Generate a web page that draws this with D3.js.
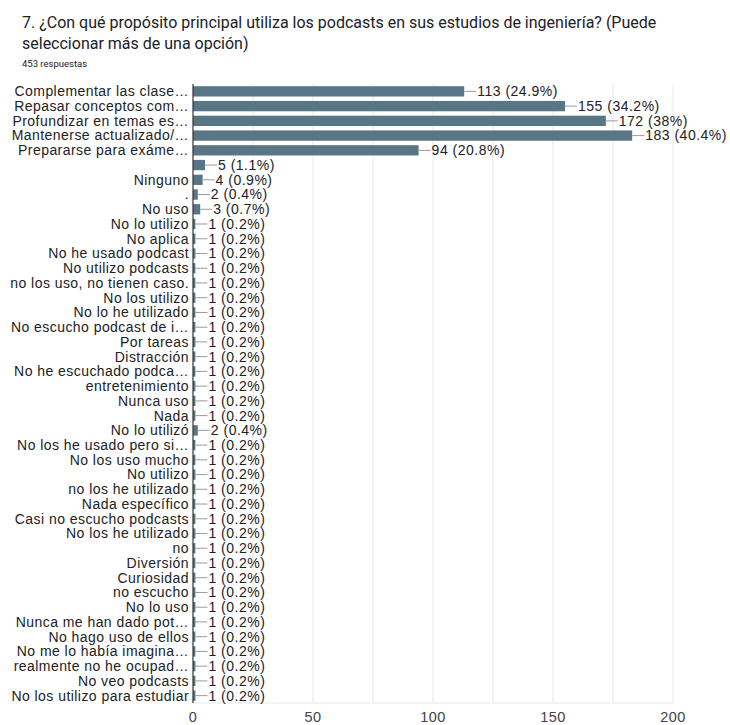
<!DOCTYPE html>
<html>
<head>
<meta charset="utf-8">
<script src="https://cdn.jsdelivr.net/npm/d3@7"></script>
<style>
  body { margin: 0; background: #fff; }
  svg { display: block; }
</style>
</head>
<body>
<div id="chart"></div>
<script>
// data
const titleLines = [
  "7. ¿Con qué propósito principal utiliza los podcasts en sus estudios de ingeniería? (Puede",
  "seleccionar más de una opción)"
];
const subtitle = "453 respuestas";

const categories = [
  "Complementar las clase…", "Repasar conceptos com…", "Profundizar en temas es…",
  "Mantenerse actualizado/…", "Prepararse para exáme…", "", "Ninguno", ".", "No uso",
  "No lo utilizo", "No aplica", "No he usado podcast", "No utilizo podcasts",
  "no los uso, no tienen caso.", "No los utilizo", "No lo he utilizado",
  "No escucho podcast de i…", "Por tareas", "Distracción", "No he escuchado podca…",
  "entretenimiento", "Nunca uso", "Nada", "No lo utilizó", "No los he usado pero si…",
  "No los uso mucho", "No utilizo", "no los he utilizado", "Nada específico",
  "Casi no escucho podcasts", "No los he utilizado", "no", "Diversión", "Curiosidad",
  "no escucho", "No lo uso", "Nunca me han dado pot…", "No hago uso de ellos",
  "No me lo había imagina…", "realmente no he ocupad…", "No veo podcasts",
  "No los utilizo para estudiar"
];
const counts = [113, 155, 172, 183, 94, 5, 4, 2, 3,
  1, 1, 1, 1, 1, 1, 1, 1, 1, 1, 1, 1, 1, 1, 2, 1, 1, 1, 1, 1, 1, 1, 1, 1, 1, 1, 1, 1, 1, 1, 1, 1, 1];
const percents = ["24.9", "34.2", "38", "40.4", "20.8", "1.1", "0.9", "0.4", "0.7",
  "0.2", "0.2", "0.2", "0.2", "0.2", "0.2", "0.2", "0.2", "0.2", "0.2", "0.2", "0.2", "0.2", "0.2", "0.4",
  "0.2", "0.2", "0.2", "0.2", "0.2", "0.2", "0.2", "0.2", "0.2", "0.2", "0.2", "0.2", "0.2", "0.2", "0.2",
  "0.2", "0.2", "0.2"];
const xTicks = [0, 50, 100, 150, 200];
const xGrid = [25, 50, 75, 100, 125, 150, 175, 200];

const data = categories.map((c, i) => ({ i, label: c, value: counts[i], pct: percents[i] }));

const width = 730, height = 725;
const margin = { top: 84, right: 57, bottom: 22, left: 193 };
const innerW = width - margin.left - margin.right;
const innerH = height - margin.top - margin.bottom;
const labelFont = "'Liberation Sans', Arial, sans-serif";

const svg = d3.select("#chart").append("svg")
  .attr("width", width)
  .attr("height", height);

// title
svg.selectAll(".title")
  .data(titleLines)
  .enter().append("text")
  .attr("class", "title")
  .attr("x", 22)
  .attr("y", (d, i) => 28 + i * 21)
  .style("font-family", "Roboto, sans-serif")
  .style("font-size", "16px")
  .style("fill", "#202124")
  .text(d => d);

svg.append("text")
  .attr("x", 22)
  .attr("y", 67)
  .style("font-family", "Roboto, sans-serif")
  .style("font-size", "9.5px")
  .style("fill", "#202124")
  .text(subtitle);

const chart = svg.append("g")
  .attr("transform", `translate(${margin.left}, ${margin.top})`);

const x = d3.scaleLinear().domain([0, 200]).range([0, innerW]);
const y = d3.scaleBand().domain(data.map(d => d.i)).range([0, innerH]).paddingInner(0.3).paddingOuter(0.15);

// grid
chart.selectAll(".grid")
  .data(xGrid)
  .enter().append("line")
  .attr("class", "grid")
  .attr("x1", d => x(d)).attr("x2", d => x(d))
  .attr("y1", 0).attr("y2", innerH)
  .style("stroke", "#e8e8e8")
  .style("stroke-width", 1);

chart.append("line")
  .attr("x1", 0).attr("x2", x(200))
  .attr("y1", innerH).attr("y2", innerH)
  .style("stroke", "#e8e8e8");

// bars
chart.selectAll(".bar")
  .data(data)
  .enter().append("rect")
  .attr("class", "bar")
  .attr("x", 0)
  .attr("y", d => y(d.i))
  .attr("width", d => x(d.value))
  .attr("height", y.bandwidth())
  .style("fill", "#587685");

// leader lines + value labels
chart.selectAll(".leader")
  .data(data)
  .enter().append("line")
  .attr("class", "leader")
  .attr("x1", d => x(d.value))
  .attr("x2", d => x(d.value) + 12)
  .attr("y1", d => y(d.i) + y.bandwidth() / 2)
  .attr("y2", d => y(d.i) + y.bandwidth() / 2)
  .style("stroke", "#9a9a9a")
  .style("stroke-width", 1);

chart.selectAll(".value")
  .data(data)
  .enter().append("text")
  .attr("class", "value")
  .attr("x", d => x(d.value) + 13)
  .attr("y", d => y(d.i) + y.bandwidth() / 2)
  .attr("dy", "0.35em")
  .style("font-family", labelFont)
  .style("font-size", "14px")
  .style("letter-spacing", "0.5px")
  .style("fill", "#222")
  .text(d => `${d.value} (${d.pct}%)`);

// category labels
chart.selectAll(".cat")
  .data(data)
  .enter().append("text")
  .attr("class", "cat")
  .attr("x", -4)
  .attr("y", d => y(d.i) + y.bandwidth() / 2)
  .attr("dy", "0.35em")
  .attr("text-anchor", "end")
  .style("font-family", labelFont)
  .style("font-size", "14px")
  .style("letter-spacing", "0.45px")
  .style("fill", "#222")
  .text(d => d.label);

// zero axis
chart.append("line")
  .attr("x1", 0).attr("x2", 0)
  .attr("y1", 0).attr("y2", innerH)
  .style("stroke", "#333")
  .style("stroke-width", 1.2);

// x tick labels
chart.selectAll(".tick-label")
  .data(xTicks)
  .enter().append("text")
  .attr("class", "tick-label")
  .attr("x", d => x(d))
  .attr("y", innerH + 19)
  .attr("text-anchor", "middle")
  .style("font-family", labelFont)
  .style("font-size", "14.5px")
  .style("letter-spacing", "0.4px")
  .style("fill", "#444")
  .text(d => d);
</script>
</body>
</html>
